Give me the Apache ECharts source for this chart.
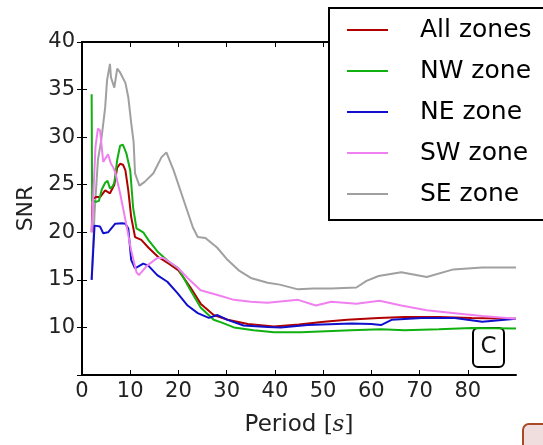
<!DOCTYPE html>
<html>
<head>
<meta charset="utf-8">
<script src="https://cdn.jsdelivr.net/npm/echarts@6/dist/echarts.min.js"></script>
<style>
  html, body { margin: 0; padding: 0; background: #fff; }
  #chartDIV { width: 543px; height: 445px; }
</style>
</head>
<body>
<div id="chartDIV"></div>
<script>
// series names, in legend order
var zoneNames = ['All zones', 'NW zone', 'NE zone', 'SW zone', 'SE zone'];

// [period (s), SNR]
var allZones = [[2,20],[2.2,23.5],[2.9,23.7],[3.75,23.7],[4.8,24.4],[5.8,24.1],[6.7,25],[7.3,26.8],[7.9,27.2],[8.5,27.1],[9,26.5],[9.6,24.4],[10.2,21.6],[11,19.5],[12.3,19.2],[13.75,18.4],[15.8,17.4],[18,16.7],[20,16],[22.5,14.2],[24.6,12.5],[27.3,11.3],[30.2,10.8],[34.4,10.35],[39.8,10.1],[45,10.3],[50.2,10.6],[55,10.8],[61.5,11.0],[66.9,11.1],[74,11.1],[80.8,11.0],[90,10.9]];
var nwZone = [[2,34.5],[2.1,23.3],[2.9,23.2],[3.5,23.3],[4.1,24.5],[4.8,25.2],[5.3,25.4],[5.8,24.6],[6.3,24.8],[6.7,25.2],[7.3,27.6],[7.9,29.1],[8.5,29.2],[9.2,28.3],[10,26.5],[10.6,22.6],[11.3,20.4],[12.7,20.0],[13.75,19.2],[15.8,17.9],[18,16.9],[20,16.2],[22.5,13.9],[24.6,12.1],[27.3,10.8],[29,10.5],[31.5,10.0],[35.6,9.7],[39.8,9.5],[45.4,9.5],[55.8,9.7],[62,9.8],[66.9,9.7],[74,9.8],[80.8,9.95],[90,9.9]];
var neZone = [[2,15],[2.6,20.7],[3.75,20.6],[4.4,19.9],[5.4,20.0],[6.9,20.9],[8.3,20.95],[9,20.9],[9.6,20.4],[10.2,17.1],[11,16.2],[12.7,16.7],[13.75,16.5],[15.6,15.5],[17.7,14.8],[19.8,13.6],[21.9,12.3],[24,11.5],[26.3,11.0],[28.1,11.3],[30.2,10.8],[33.5,10.2],[38.5,10.05],[41.2,10.0],[46.8,10.25],[55.8,10.4],[60,10.35],[62,10.25],[64.2,10.8],[70.4,11.0],[77.3,11.0],[83,10.6],[90,10.9]];
var swZone = [[2,20],[2.8,29],[3.3,30.9],[3.75,30.7],[4.4,27.4],[5.4,28.2],[6,27.2],[6.5,26.8],[6.9,26.3],[7.9,24.1],[9,21.3],[10.2,18.1],[11.3,15.8],[11.8,15.5],[13.5,16.5],[15.6,17.3],[16.9,17.3],[19.8,16.3],[21.9,15.2],[24.6,13.9],[28.1,13.4],[31.5,12.9],[35,12.7],[38.5,12.6],[40.6,12.7],[44.8,12.9],[48.5,12.3],[51.7,12.7],[56.9,12.5],[61.7,12.8],[66.2,12.3],[71.5,11.8],[77.3,11.5],[83,11.2],[90,10.9]];
var seZone = [[2,15],[2.6,22],[3.3,27.6],[4,29.7],[4.8,33.1],[5.2,36],[5.8,37.7],[6,36.3],[6.7,35.2],[7.3,37.2],[7.9,36.8],[9,35.7],[9.6,34.2],[10.2,31.5],[10.7,29.5],[11,26.2],[11.9,24.9],[13,25.3],[14.8,26.2],[16.5,27.9],[17.5,28.4],[19,26.5],[21,23.5],[23,20.5],[24,19.5],[25.6,19.4],[28,18.4],[30,17.2],[32.5,16],[35,15.2],[38.5,14.7],[41,14.5],[44.8,14.0],[48,14.1],[51.7,14.1],[56.9,14.2],[59,14.9],[61.5,15.4],[66.2,15.8],[71.5,15.3],[77,16.1],[83,16.3],[90,16.3]];

var xTicks = [0, 10, 20, 30, 40, 50, 60, 70, 80, 90];
var yTicks = [5, 10, 15, 20, 25, 30, 35, 40];

var zoneData = [allZones, nwZone, neZone, swZone, seZone];
var zoneColors = ['#b00000', '#10b010', '#1010cc', '#f080f0', '#a0a0a0'];

var myChart = echarts.init(document.getElementById('chartDIV'));

var font = 'DejaVu Sans';
var axisLine = {show: true, lineStyle: {color: '#000', width: 2}};
var tickIn = {show: true, inside: true, length: 5, lineStyle: {color: '#000', width: 1}};

var series = [];
for (var i = 0; i < zoneNames.length; i++) {
    series.push({
        name: zoneNames[i],
        type: 'line',
        data: zoneData[i],
        symbol: 'none',
        color: zoneColors[i],
        lineStyle: {width: 2},
        z: i == 4 ? 1 : 2 + i,
        animation: false
    });
}

var option = {
    animation: false,
    grid: {left: 82, right: 27, top: 42, bottom: 70},
    legend: {
        orient: 'vertical',
        left: 329,
        top: 8,
        data: zoneNames,
        icon: 'rect',
        itemWidth: 41,
        itemHeight: 2,
        itemGap: 15,
        padding: [9, 40, 13, 18],
        backgroundColor: '#fff',
        borderColor: '#000',
        borderWidth: 2,
        textStyle: {fontFamily: font, fontSize: 25, color: '#000', lineHeight: 26, padding: [0, 0, 0, 27]},
        z: 10
    },
    xAxis: [
        {
            type: 'value',
            min: xTicks[0], max: xTicks[xTicks.length - 1], interval: 10,
            name: 'Period {b|[}{i|s}{b|]}',
            nameLocation: 'middle',
            nameGap: 39,
            nameTextStyle: {
                fontFamily: font, fontSize: 23, color: '#222',
                rich: {
                    b: {fontFamily: 'DejaVu Serif', fontSize: 23, color: '#222'},
                    i: {fontFamily: 'DejaVu Serif', fontStyle: 'italic', fontSize: 23, color: '#222'}
                }
            },
            axisLine: axisLine,
            axisTick: tickIn,
            splitLine: {show: false},
            axisLabel: {fontFamily: font, fontSize: 21, color: '#222', margin: 6, showMaxLabel: false}
        },
        {
            type: 'value', position: 'top',
            min: xTicks[0], max: xTicks[xTicks.length - 1], interval: 10,
            axisLine: axisLine, axisTick: tickIn,
            splitLine: {show: false}, axisLabel: {show: false}
        }
    ],
    yAxis: [
        {
            type: 'value',
            min: yTicks[0], max: yTicks[yTicks.length - 1], interval: 5,
            name: 'SNR',
            nameLocation: 'middle',
            nameGap: 43,
            nameTextStyle: {fontFamily: font, fontSize: 22, color: '#222'},
            axisLine: axisLine,
            axisTick: tickIn,
            splitLine: {show: false},
            axisLabel: {fontFamily: font, fontSize: 21, color: '#222', margin: 7, showMinLabel: false}
        },
        {
            type: 'value', position: 'right',
            min: yTicks[0], max: yTicks[yTicks.length - 1], interval: 5,
            axisLine: axisLine, axisTick: tickIn,
            splitLine: {show: false}, axisLabel: {show: false}
        }
    ],
    graphic: [
        {
            // panel tag "C"
            type: 'group', left: 472, top: 327, z: 20,
            children: [
                {type: 'rect', shape: {x: 0, y: 0, width: 31, height: 39, r: 5},
                    style: {fill: '#fff', stroke: '#000', lineWidth: 2}},
                {type: 'text', x: 15.5, y: 19.5,
                    style: {text: 'C', font: '23px "DejaVu Sans"', fill: '#111', align: 'center', verticalAlign: 'middle'}}
            ]
        },
        {
            // cut-off box in the corner of the picture
            type: 'rect', left: 522, top: 423, z: 20,
            shape: {x: 0, y: 0, width: 40, height: 40, r: 6},
            style: {fill: '#f0dede', stroke: '#a84a28', lineWidth: 2}
        }
    ],
    series: series
};

myChart.setOption(option);
</script>
</body>
</html>
